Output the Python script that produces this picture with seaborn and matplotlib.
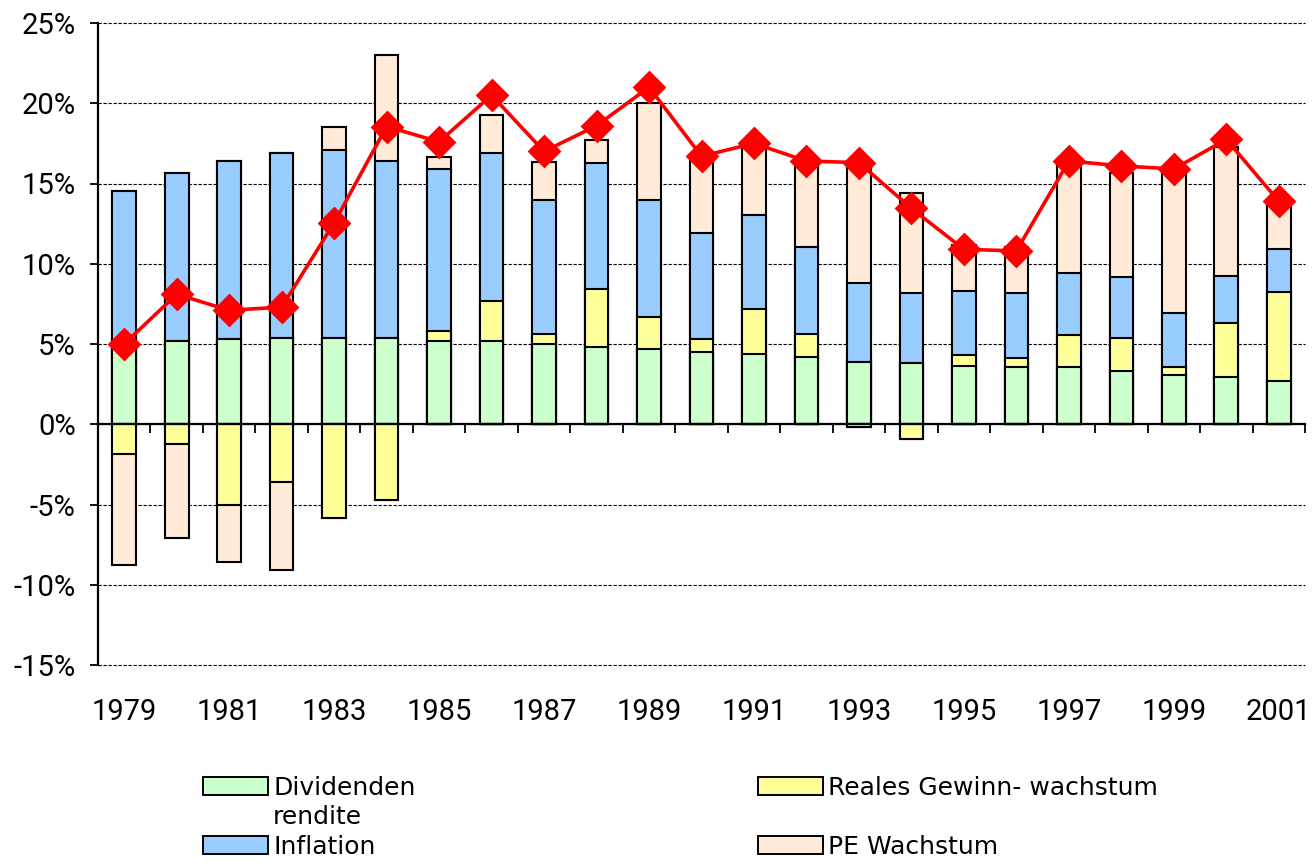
import numpy as np
import matplotlib
matplotlib.use("Agg")
import matplotlib.pyplot as plt
import matplotlib.transforms as mtransforms
from matplotlib.patches import Patch
import seaborn as sns

# values in percent
years = [str(y) for y in range(1979, 2002)]
dividend = [5.0, 5.2, 5.3, 5.4, 5.4, 5.4, 5.2, 5.2, 5.0, 4.8, 4.7, 4.5,
            4.4, 4.2, 3.85, 3.8, 3.65, 3.55, 3.55, 3.3, 3.05, 2.95, 2.7]
real_growth = [-1.85, -1.2, -5.0, -3.6, -5.85, -4.75, 0.6, 2.5, 0.6, 3.6, 2.0, 0.8,
               2.8, 1.45, -0.15, -0.9, 0.65, 0.6, 2.0, 2.1, 0.5, 3.35, 5.55]
inflation = [9.55, 10.45, 11.1, 11.5, 11.7, 11.0, 10.1, 9.2, 8.4, 7.85, 7.3, 6.6,
             5.85, 5.4, 4.95, 4.4, 4.0, 4.0, 3.85, 3.75, 3.4, 2.95, 2.65]
pe_growth = [-6.9, -5.9, -3.6, -5.45, 1.45, 6.6, 0.75, 2.35, 2.35, 1.45, 6.0, 4.5,
             4.3, 5.2, 7.25, 6.2, 2.85, 2.9, 6.75, 6.5, 8.7, 8.0, 2.7]
total_return = [5.0, 8.1, 7.1, 7.3, 12.55, 18.55, 17.6, 20.5, 17.0, 18.6, 21.0, 16.7,
                17.5, 16.4, 16.3, 13.45, 10.9, 10.8, 16.4, 16.1, 15.9, 17.75, 13.9]

labels = ["Dividenden", "Reales Gewinn- wachstum", "Inflation", "PE Wachstum"]
colors = ["#CCFFCC", "#FFFF99", "#99CCFF", "#FFEBD7"]
yticks = [-15, -10, -5, 0, 5, 10, 15, 20, 25]
ytick_labels = ["-15%", "-10%", "-5%", "0%", "5%", "10%", "15%", "20%", "25%"]

sns.set_style("white")
plt.rcParams["font.family"] = ["Roboto", "DejaVu Sans"]
plt.rcParams["text.color"] = "black"
plt.rcParams["xtick.color"] = "black"
plt.rcParams["ytick.color"] = "black"

fig = plt.figure(figsize=(13.15, 8.64), dpi=100)
ax = fig.add_axes([98 / 1315, 1 - 665 / 864, 1207 / 1315, 642 / 864])

# positive parts stack upward in series order, negative parts stack downward
series = [np.array(dividend), np.array(real_growth), np.array(inflation), np.array(pe_growth)]
pos_cum = np.cumsum([np.clip(s, 0, None) for s in series], axis=0)
neg_real = np.clip(series[1], None, 0)
neg_pe = neg_real + np.clip(series[3], None, 0)

bar_kw = dict(width=0.45, edgecolor="black", linewidth=1.5, errorbar=None, ax=ax)
for k in [3, 2, 1, 0]:
    sns.barplot(x=years, y=pos_cum[k], color=colors[k], saturation=1, **bar_kw)
sns.barplot(x=years, y=neg_pe, color=colors[3], saturation=1, **bar_kw)
sns.barplot(x=years, y=neg_real, color=colors[1], saturation=1, **bar_kw)

sns.pointplot(x=years, y=total_return, color="#FF0000", marker="D", markersize=15,
              linewidth=2.6, errorbar=None, ax=ax)

ax.set_ylim(-15, 25)
ax.set_xlim(-0.5, len(years) - 0.5)
ax.set_yticks(yticks)
ax.set_yticklabels(ytick_labels, fontsize=21)
ax.set_xticks(np.arange(len(years)) + 0.5)
ax.set_xticklabels([])
ax.set_xlabel("")
ax.set_ylabel("")

ax.yaxis.grid(True, color="black", linestyle=(0, (3, 1.5)), linewidth=0.8)
for gl in ax.get_ygridlines():
    gl.set_clip_on(False)
ax.set_axisbelow(True)
for s in ["top", "right"]:
    ax.spines[s].set_visible(False)
ax.spines["left"].set_linewidth(1.6)
ax.spines["left"].set_color("black")
ax.spines["bottom"].set_position(("data", 0))
ax.spines["bottom"].set_linewidth(1.6)
ax.spines["bottom"].set_color("black")
ax.tick_params(axis="y", direction="out", length=6, width=1.3, pad=10, left=True)
ax.tick_params(axis="x", direction="out", length=6.5, width=1.3, bottom=True)

trans = mtransforms.blended_transform_factory(ax.transData, ax.transAxes)
for i, yr in enumerate(years):
    if i % 2 == 0:
        ax.text(i, -0.0857, yr, transform=trans, ha="center", va="baseline", fontsize=21)

handles = [Patch(facecolor=colors[0], edgecolor="black", linewidth=1.4),
           Patch(facecolor=colors[2], edgecolor="black", linewidth=1.4),
           Patch(facecolor=colors[1], edgecolor="black", linewidth=1.4),
           Patch(facecolor=colors[3], edgecolor="black", linewidth=1.4)]
fig.legend(handles, [labels[0], labels[2], labels[1], labels[3]], ncol=2,
           loc="upper left", bbox_to_anchor=(203 / 1315, 1 - 776 / 864),
           frameon=False, borderpad=0, borderaxespad=0,
           prop={"family": "DejaVu Sans", "size": 18},
           handlelength=2.6, handleheight=0.72, handletextpad=0.2,
           labelspacing=1.4, columnspacing=13.7)
fig.text(273 / 1315, 1 - 817 / 864, "rendite", fontsize=18, family="DejaVu Sans",
         ha="left", va="center")

fig.savefig("out.png", dpi=100)
